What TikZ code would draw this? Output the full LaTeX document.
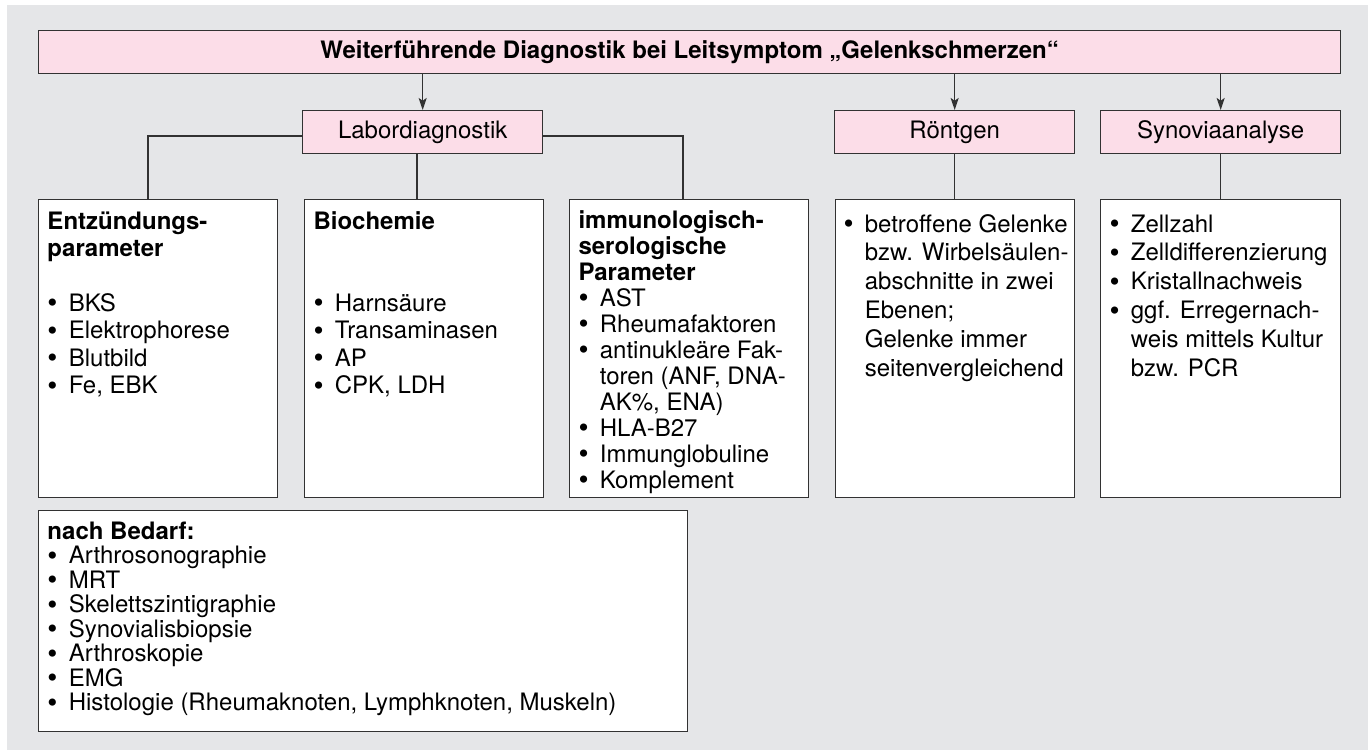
\documentclass[tikz,border=0pt]{standalone}
\usepackage{fontspec}
\setmainfont{TeX Gyre Heros}
\usetikzlibrary{arrows.meta,positioning}

\definecolor{bggray}{RGB}{229,230,232}
\definecolor{headpink}{RGB}{252,221,232}
\definecolor{framegray}{RGB}{50,50,50}

\newcommand{\boxfont}[1]{\fontsize{18pt}{#1}\selectfont}
\newcommand{\itm}[1]{\par\hangindent=16pt\hangafter=1\noindent
  \makebox[16pt][l]{\raisebox{-1.1pt}{\scalebox{1.2}{\textbullet}}}#1}

\tikzset{every picture/.style={line width=0.75pt}}
\tikzset{
  headbox/.style={draw=framegray, fill=headpink, line width=1pt, inner sep=0pt,
    anchor=north west, minimum height=32pt, font=\boxfont{20pt}},
  listbox/.style={draw=framegray, fill=white, line width=1pt, inner sep=0pt,
    anchor=north west, minimum width=179.25pt},
  listtext/.style={anchor=base west, inner sep=0pt},
  link/.style={draw=framegray, line width=1pt},
  arrowlink/.style={link, -{Stealth[length=9pt,width=6pt,inset=2pt]}},
}

\begin{document}
\begin{tikzpicture}[x=0.75pt,y=0.75pt,yscale=-1,xscale=1]
\useasboundingbox (0,0) rectangle (1368,750);

%Shape: Background
\fill [white] (0,0) rectangle (1368,750);
\fill [bggray] (7,5) rectangle (1368,750);

%Shape: Title
\node [headbox, minimum width=976.5pt] (title) at (38,30)
  {\textbf{Weiterführende Diagnostik bei Leitsymptom „Gelenkschmerzen“}};

%Shape: Head boxes
\node [headbox, minimum width=180pt] (labor) at (302,110) {Labordiagnostik};
\node [headbox, minimum width=180pt] (roentgen) at (834,110) {Röntgen};
\node [headbox, minimum width=180pt] (synovia) at (1100,110) {Synoviaanalyse};

%Shape: List boxes
\node [listbox, minimum height=223.5pt] (entz) at (38,199) {};
\node [listbox, minimum height=223.5pt] (bioch) at (304,199) {};
\node [listbox, minimum height=223.5pt] (immun) at (569,199) {};
\node [listbox, minimum height=223.5pt] (betr) at (835,199) {};
\node [listbox, minimum height=223.5pt, minimum width=180pt] (zell) at (1100,199) {};
\node [listbox, minimum width=486.75pt, minimum height=165.75pt] (bedarf) at (38,510) {};

% Arrows
\draw [arrowlink] (title.south -| labor.north) -- (labor.north);
\draw [arrowlink] (title.south -| roentgen.north) -- (roentgen.north);
\draw [arrowlink] (title.south -| synovia.north) -- (synovia.north);

% Connectors
\draw [link] (labor.west |- 0,136) -| (entz.north -| 148,0);
\draw [link] (labor.south -| 417,0) -- (bioch.north -| 417,0);
\draw [link] (labor.east |- 0,136) -| (immun.north -| 683,0);
\draw [link] (roentgen.south) -- (roentgen.south |- betr.north);
\draw [link] (synovia.south) -- (synovia.south |- zell.north);

% Text Node
\node [listtext, font=\boxfont{20.6pt}] (entztext) at (47,229) {\parbox[t]{172pt}{\raggedright
  \textbf{Entzündungs-\\parameter}\par\mbox{}
  \itm{BKS}\itm{Elektrophorese}\itm{Blutbild}\itm{Fe, EBK}}};
% Text Node
\node [listtext, font=\boxfont{20.6pt}] (biochtext) at (313,229) {\parbox[t]{172pt}{\raggedright
  \textbf{Biochemie}\par\mbox{}\par\mbox{}
  \itm{Harnsäure}\itm{Transaminasen}\itm{AP}\itm{CPK, LDH}}};
% Text Node
\node [listtext, font=\boxfont{19.5pt}] (immuntext) at (578,228) {\parbox[t]{172pt}{\raggedright
  \textbf{immunologisch-\\serologische\\Parameter}
  \itm{AST}\itm{Rheumafaktoren}\itm{antinukleäre Fak-\newline toren (ANF, DNA-\newline AK\%, ENA)}
  \itm{HLA-B27}\itm{Immunglobuline}\itm{Komplement}}};
% Text Node
\node [listtext, font=\boxfont{21.7pt}] (betrtext) at (843,232) {\parbox[t]{172pt}{\raggedright
  \itm{betroffene Gelenke\newline bzw. Wirbelsäulen-\newline abschnitte in zwei\newline
  Ebenen;\newline Gelenke immer\newline seitenvergleichend}}};
% Text Node
\node [listtext, font=\boxfont{21.7pt}] (zelltext) at (1109,232) {\parbox[t]{172pt}{\raggedright
  \itm{Zellzahl}\itm{Zelldifferenzierung}\itm{Kristallnachweis}
  \itm{ggf. Erregernach-\newline weis mittels Kultur\newline bzw. PCR}}};
% Text Node
\node [listtext, font=\boxfont{18.4pt}] (bedarftext) at (47,539) {\parbox[t]{465pt}{\raggedright
  \textbf{nach Bedarf:}
  \itm{Arthrosonographie}\itm{MRT}\itm{Skelettszintigraphie}\itm{Synovialisbiopsie}
  \itm{Arthroskopie}\itm{EMG}\itm{Histologie (Rheumaknoten, Lymphknoten, Muskeln)}}};

\end{tikzpicture}
\end{document}
